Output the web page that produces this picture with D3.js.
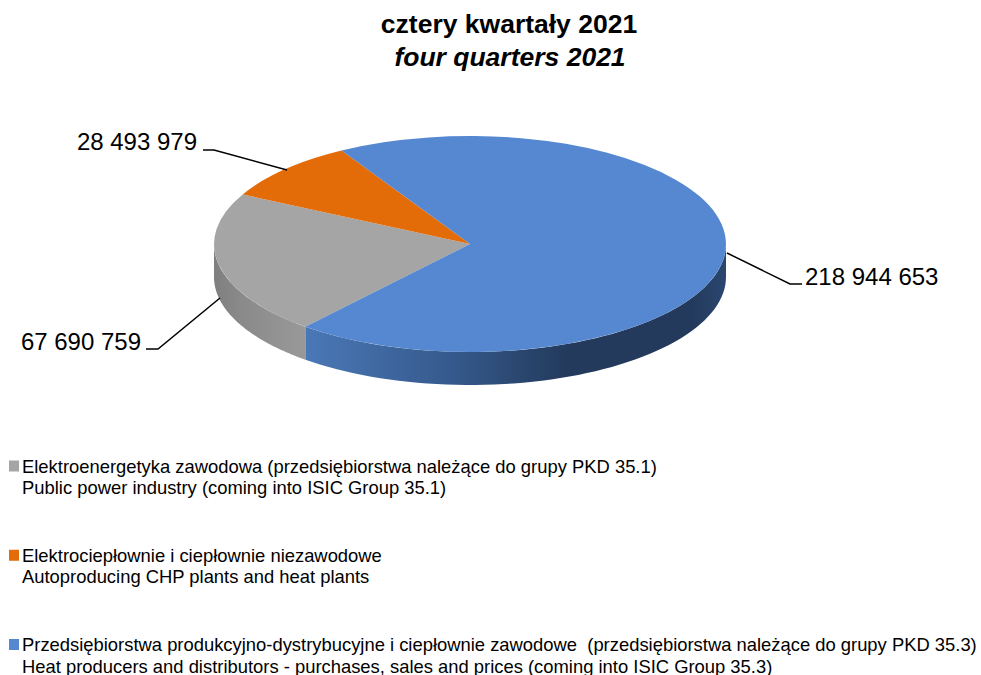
<!DOCTYPE html>
<html>
<head>
<meta charset="utf-8">
<script src="https://cdn.jsdelivr.net/npm/d3@7"></script>
<style>
  html, body { margin: 0; padding: 0; background: #fff; }
  text { font-family: "Liberation Sans", Arial, sans-serif; fill: #000; }
</style>
</head>
<body>
<div class="container"></div>
<script>
const categories = ["gray", "orange", "blue"];
const values = [67690759, 28493979, 218944653];
const valueLabels = ["67 690 759", "28 493 979", "218 944 653"];
const topColors = ["#a5a5a5", "#e36c09", "#5588d0"];
const titleLines = ["cztery kwartały 2021", "four quarters 2021"];
const legendPl = [
    "Elektroenergetyka zawodowa (przedsiębiorstwa należące do grupy PKD 35.1)",
    "Elektrociepłownie i ciepłownie niezawodowe",
    "Przedsiębiorstwa produkcyjno-dystrybucyjne i ciepłownie zawodowe  (przedsiębiorstwa należące do grupy PKD 35.3)"
];
const legendEn = [
    "Public power industry (coming into ISIC Group 35.1)",
    "Autoproducing CHP plants and heat plants",
    "Heat producers and distributors - purchases, sales and prices (coming into ISIC Group 35.3)"
];

const width = 981;
const height = 675;
const cx = 470, cy = 244, rx = 256, ry = 108, depth = 33;
const firstAngle = 220 * Math.PI / 180;

const svg = d3.select(".container")
    .append("svg")
        .attr("width", width)
        .attr("height", height)
        .style("display", "block");

const defs = svg.append("defs");

const grayGrad = defs.append("linearGradient").attr("id", "wallGray")
    .attr("gradientUnits", "userSpaceOnUse")
    .attr("x1", cx - rx).attr("x2", cx - 164).attr("y1", 0).attr("y2", 0);
grayGrad.append("stop").attr("offset", "0%").attr("stop-color", "#7f7f7f");
grayGrad.append("stop").attr("offset", "30%").attr("stop-color", "#8a8a8a");
grayGrad.append("stop").attr("offset", "100%").attr("stop-color", "#999999");

const blueGrad = defs.append("linearGradient").attr("id", "wallBlue")
    .attr("gradientUnits", "userSpaceOnUse")
    .attr("x1", cx - 164).attr("x2", cx + rx).attr("y1", 0).attr("y2", 0);
blueGrad.append("stop").attr("offset", "0%").attr("stop-color", "#4a78b6");
blueGrad.append("stop").attr("offset", "35%").attr("stop-color", "#35598c");
blueGrad.append("stop").attr("offset", "62%").attr("stop-color", "#233a5c");
blueGrad.append("stop").attr("offset", "92%").attr("stop-color", "#233a5c");
blueGrad.append("stop").attr("offset", "100%").attr("stop-color", "#2b4770");

const pie = d3.pie()
    .sort(null)
    .startAngle(firstAngle)
    .endAngle(firstAngle + 2 * Math.PI);
const slices = pie(values);

// angle measured clockwise from the top, flattened to an ellipse
const rimPoint = (a) => [cx + rx * Math.sin(a), cy - ry * Math.cos(a)];

const wallLine = d3.line();

function wallPath(a0, a1) {
    const angles = d3.range(0, 61).map((i) => a0 + (a1 - a0) * i / 60);
    const upper = angles.map(rimPoint);
    const lower = angles.map(rimPoint).map((p) => [p[0], p[1] + depth]).reverse();
    return wallLine(upper.concat(lower)) + "Z";
}

// only the front half of the rim shows, from 90 to 270 degrees
const frontStart = Math.PI / 2, frontEnd = 3 * Math.PI / 2;
const wall = svg.append("g");
slices.forEach((s, i) => {
    [0, 2 * Math.PI].forEach((turn) => {
        const a0 = Math.max(s.startAngle - turn, frontStart);
        const a1 = Math.min(s.endAngle - turn, frontEnd);
        if (a1 > a0) {
            wall.append("path")
                .attr("d", wallPath(a0, a1))
                .attr("fill", i === 0 ? "url(#wallGray)" : "url(#wallBlue)")
                .attr("stroke", "none");
        }
    });
});

const arc = d3.arc().innerRadius(0).outerRadius(1);
svg.append("g")
    .attr("transform", `translate(${cx},${cy}) scale(${rx},${ry})`)
    .selectAll("path")
    .data(slices)
    .join("path")
        .attr("d", arc)
        .attr("fill", (d, i) => topColors[i]);

// leader lines: anchor on the pie, elbow, end next to the label
const leaders = [
    { pts: [[220, 298], [158, 349], [146, 349]], x: 141, y: 342, anchor: "end" },
    { pts: [[287, 170], [214, 150], [203, 150]], x: 197, y: 142, anchor: "end" },
    { pts: [[727, 253], [790, 284], [802, 284]], x: 805, y: 277, anchor: "start" }
];

svg.append("g")
    .selectAll("path")
    .data(leaders)
    .join("path")
        .attr("d", (d) => d3.line()(d.pts))
        .attr("fill", "none")
        .attr("stroke", "#000")
        .attr("stroke-width", 1.5);

svg.append("g")
    .selectAll("text")
    .data(leaders)
    .join("text")
        .attr("x", (d) => d.x)
        .attr("y", (d) => d.y)
        .attr("dy", "0.35em")
        .attr("text-anchor", (d) => d.anchor)
        .attr("font-size", 24)
        .text((d, i) => valueLabels[i]);

svg.append("text")
    .attr("x", 509).attr("y", 33)
    .attr("text-anchor", "middle")
    .attr("font-size", 26.5)
    .attr("font-weight", "bold")
    .text(titleLines[0]);
svg.append("text")
    .attr("x", 510).attr("y", 66)
    .attr("text-anchor", "middle")
    .attr("font-size", 26.5)
    .attr("font-weight", "bold")
    .attr("font-style", "italic")
    .text(titleLines[1]);

const legendY = d3.scalePoint().domain(categories).range([472.5, 651]);
const legend = svg.append("g")
    .selectAll("g")
    .data(categories)
    .join("g")
        .attr("transform", (d) => `translate(0,${legendY(d)})`);

legend.append("rect")
    .attr("x", 9).attr("y", -12)
    .attr("width", 10).attr("height", 11)
    .attr("fill", (d, i) => topColors[i]);
legend.append("text")
    .attr("x", 22).attr("y", 0)
    .attr("font-size", 18.4)
    .attr("xml:space", "preserve")
    .text((d, i) => legendPl[i]);
legend.append("text")
    .attr("x", 22).attr("y", 21.5)
    .attr("font-size", 18.4)
    .text((d, i) => legendEn[i]);
</script>
</body>
</html>
